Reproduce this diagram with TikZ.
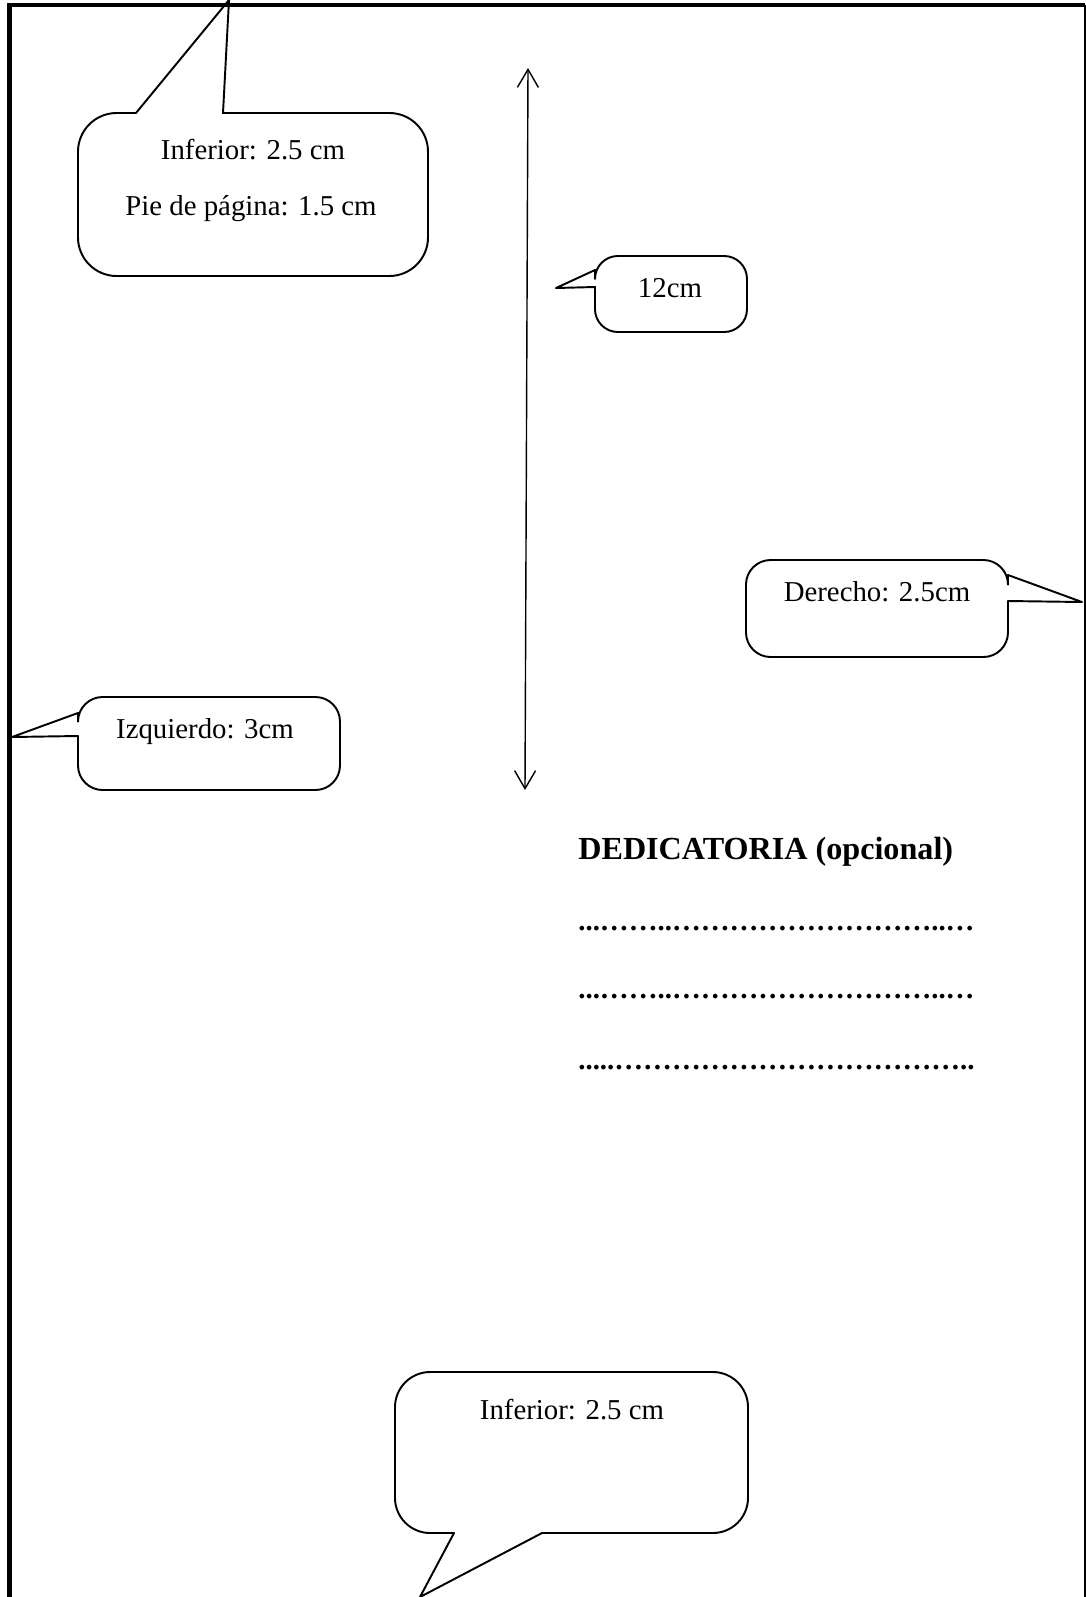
\documentclass[tikz,border=0pt]{standalone}
\usepackage{fontspec}
\setmainfont{Liberation Serif}
\usepackage{tikz}
\usetikzlibrary{arrows.meta}

\newcommand{\puntosfila}[1]{\foreach \k in {1,...,#1}{…}}

\tikzset{
  globo/.style={line width=1.1pt, line join=round},
  etiqueta/.style={font=\fontsize{16.4}{20}\selectfont, inner sep=0pt},
  puntos/.style={font=\fontsize{16.4}{20}\selectfont\bfseries, anchor=west, inner sep=0pt}
}

\begin{document}
\begin{tikzpicture}[x=0.02cm,y=-0.02cm]
  \useasboundingbox (0,0) rectangle (1086,1597);
  % borde de la hoja
  \draw[line width=2.6pt] (9.5,1597) -- (9.5,5) -- (1085,5);
  \draw[line width=0.8pt] (1085,5) -- (1085,1597);

  % globo superior
  \draw[globo] (136,113) [rounded corners=22] -- (78,113) -- (78,276) -- (428,276) -- (428,113) [sharp corners] -- (223,113) -- (229,0) -- cycle;
  \node[etiqueta] (inferior1) at (253,150) {Inferior: 2.5 cm};
  \node[etiqueta] (pie) at (251,209) {Pie de página: 1.5 cm};

  % flecha de 12cm
  \coordinate (arriba) at (528,68);
  \coordinate (abajo) at (525,790);
  \draw[{Straight Barb[length=0.36cm,width=0.42cm]}-{Straight Barb[length=0.36cm,width=0.42cm]}, line width=0.8pt] (arriba) -- (abajo);

  \draw[globo] (595,287) [rounded corners=13] -- (595,332) -- (747,332) -- (747,256) -- (595,256) [sharp corners] -- (595,270) -- (556,288) -- cycle;
  \node[etiqueta] (doce) at (670,288) {12cm};

  % derecho
  \draw[globo] (1008,601) [rounded corners=14] -- (1008,657) -- (746,657) -- (746,560) -- (1008,560) [sharp corners] -- (1008,575) -- (1082,602) -- cycle;
  \node[etiqueta] (derecho) at (877,592) {Derecho: 2.5cm};

  % izquierdo
  \draw[globo] (78,736) [rounded corners=14] -- (78,790) -- (340,790) -- (340,697) -- (78,697) [sharp corners] -- (78,713) -- (12,737) -- cycle;
  \node[etiqueta] (izquierdo) at (205,732) {Izquierdo: 3cm};

  % dedicatoria
  \node[font=\fontsize{18.3}{22}\selectfont\bfseries, anchor=west, inner sep=0pt] (titulo) at (578,852) {DEDICATORIA (opcional)};
  \foreach \y/\linea in {929/{...\puntosfila{2}..\puntosfila{9}..\puntosfila{1}},997/{...\puntosfila{2}..\puntosfila{9}..\puntosfila{1}},1068/{.....\puntosfila{12}..}}
    \node[puntos] (fila\y) at (578,\y) {\linea};

  % globo inferior
  \draw[globo] (542,1533) [rounded corners=20] -- (748,1533) -- (748,1372) -- (395,1372) -- (395,1533) [sharp corners] -- (454,1533) -- (420,1597) -- cycle;
  \node[etiqueta] (inferior2) at (572,1410) {Inferior: 2.5 cm};
\end{tikzpicture}
\end{document}
